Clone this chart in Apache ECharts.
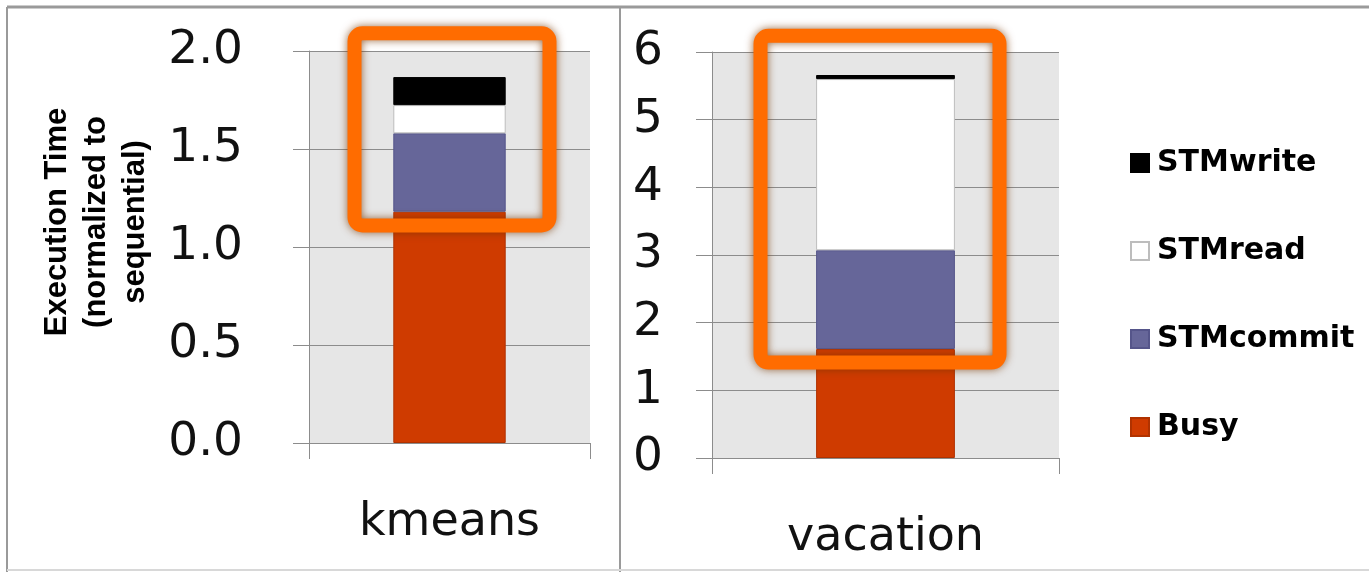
<!DOCTYPE html>
<html>
<head>
<meta charset="utf-8">
<title>Execution Time breakdown</title>
<script src="https://cdn.jsdelivr.net/npm/echarts@6/dist/echarts.min.js"></script>
<style>
  html, body { margin: 0; padding: 0; background: #ffffff; }
  #chart { width: 1369px; height: 572px; }
</style>
</head>
<body>
<div id="chart"></div>
<script>
// Benchmarks, one per panel
const leftCategories = ['kmeans'];
const rightCategories = ['vacation'];

// Time components per benchmark: [kmeans, vacation]
const busy = [1.18, 1.61];
const stmCommit = [0.40, 1.46];
const stmRead = [0.144, 2.53];
const stmWrite = [0.143, 0.06];

// Legend order, top to bottom
const legendOrder = ['STMwrite', 'STMread', 'STMcommit', 'Busy'];

// Value ranges emphasised by the orange frames: [low, high] per panel
const frameRanges = [[1.11, 2.09], [1.41, 6.24]];

const colors = {
  Busy: '#cf3b00',
  STMcommit: '#666699',
  STMread: '#ffffff',
  STMwrite: '#000000'
};
const borders = {
  Busy: '#b03200',
  STMcommit: '#55558a',
  STMread: '#bdbdbd',
  STMwrite: '#000000'
};

const axisGrey = '#8c8c8c';
const tickFont = 'DejaVu Sans, Verdana, sans-serif';

function stackSeries(name, values) {
  return [0, 1].map(function (i) {
    return {
      name: name,
      type: 'bar',
      stack: 'total' + i,
      xAxisIndex: i,
      yAxisIndex: i,
      barWidth: '40%',
      data: [values[i]],
      itemStyle: { color: colors[name], borderColor: borders[name], borderWidth: 1 },
      emphasis: { disabled: true }
    };
  });
}

function valueAxis(i, max, interval, digits, margin, extra) {
  return Object.assign({
    type: 'value',
    gridIndex: i,
    min: 0,
    max: max,
    interval: interval,
    axisLine: { show: true, lineStyle: { color: axisGrey, width: 1 } },
    axisTick: { show: true, length: 16, lineStyle: { color: axisGrey } },
    splitLine: { show: true, lineStyle: { color: axisGrey, width: 1 } },
    axisLabel: {
      fontSize: 47,
      fontFamily: tickFont,
      color: '#111111',
      margin: margin,
      formatter: function (v) { return v.toFixed(digits); }
    }
  }, extra || {});
}

function categoryAxis(i, cats) {
  return {
    type: 'category',
    gridIndex: i,
    data: cats,
    axisLine: { show: true, lineStyle: { color: axisGrey, width: 1 } },
    axisTick: { show: true, length: 16, lineStyle: { color: axisGrey } },
    axisLabel: { fontSize: 46, fontFamily: tickFont, color: '#111111', margin: 57 }
  };
}

const chart = echarts.init(document.getElementById('chart'), null, { renderer: 'canvas' });

const series = []
  .concat(stackSeries('Busy', busy))
  .concat(stackSeries('STMcommit', stmCommit))
  .concat(stackSeries('STMread', stmRead))
  .concat(stackSeries('STMwrite', stmWrite));

chart.setOption({
  animation: false,
  backgroundColor: '#ffffff',
  grid: [
    { left: 309, top: 51, width: 281, height: 392, show: true, backgroundColor: '#e6e6e6', borderWidth: 0, containLabel: false, outerBoundsMode: 'none' },
    { left: 712, top: 52, width: 347, height: 406, show: true, backgroundColor: '#e6e6e6', borderWidth: 0, containLabel: false, outerBoundsMode: 'none' }
  ],
  xAxis: [categoryAxis(0, leftCategories), categoryAxis(1, rightCategories)],
  yAxis: [
    valueAxis(0, 2, 0.5, 1, 66, {
      name: 'Execution Time\n(normalized to\nsequential)',
      nameLocation: 'middle',
      nameRotate: 90,
      nameGap: 154,
      nameTextStyle: {
        fontFamily: 'Liberation Sans, Arial, sans-serif',
        fontWeight: 'bold',
        fontSize: 31,
        lineHeight: 39,
        color: '#000000',
        align: 'center',
        padding: [0, 0, 0, 50]
      }
    }),
    valueAxis(1, 6, 1, 0, 49)
  ],
  legend: {
    orient: 'vertical',
    left: 1125,
    top: 143,
    icon: 'rect',
    itemWidth: 18,
    itemHeight: 18,
    itemGap: 58,
    selectedMode: false,
    data: legendOrder,
    textStyle: {
      fontFamily: tickFont,
      fontWeight: 'bold',
      fontSize: 30,
      color: '#000000',
      padding: [0, 0, 0, 3]
    }
  },
  series: series
});

// Panel frame lines and orange emphasis frames
function frameGraphic(gridIndex, range, padLeft, padRight) {
  const low = chart.convertToPixel({ gridIndex: gridIndex }, [0, range[0]]);
  const high = chart.convertToPixel({ gridIndex: gridIndex }, [0, range[1]]);
  const cx = low[0];
  return {
    type: 'rect',
    z: 100,
    silent: true,
    shape: { x: cx - padLeft, y: high[1], width: padLeft + padRight, height: low[1] - high[1], r: 8 },
    style: {
      fill: null,
      stroke: '#ff6c00',
      lineWidth: 14,
      shadowBlur: 9,
      shadowColor: 'rgba(120, 55, 0, 0.75)'
    }
  };
}

chart.setOption({
  graphic: [
    { type: 'line', silent: true, z: 50, shape: { x1: 7, y1: 7, x2: 1369, y2: 7 }, style: { stroke: '#9a9a9a', lineWidth: 3 } },
    { type: 'line', silent: true, z: 50, shape: { x1: 7, y1: 7, x2: 7, y2: 572 }, style: { stroke: '#9a9a9a', lineWidth: 2 } },
    { type: 'line', silent: true, z: 50, shape: { x1: 620, y1: 7, x2: 620, y2: 572 }, style: { stroke: '#9a9a9a', lineWidth: 2 } },
    { type: 'line', silent: true, z: 50, shape: { x1: 7, y1: 570, x2: 1369, y2: 570 }, style: { stroke: '#d8d8d8', lineWidth: 2 } },
    frameGraphic(0, frameRanges[0], 95, 100),
    frameGraphic(1, frameRanges[1], 125, 114)
  ]
});
</script>
</body>
</html>
